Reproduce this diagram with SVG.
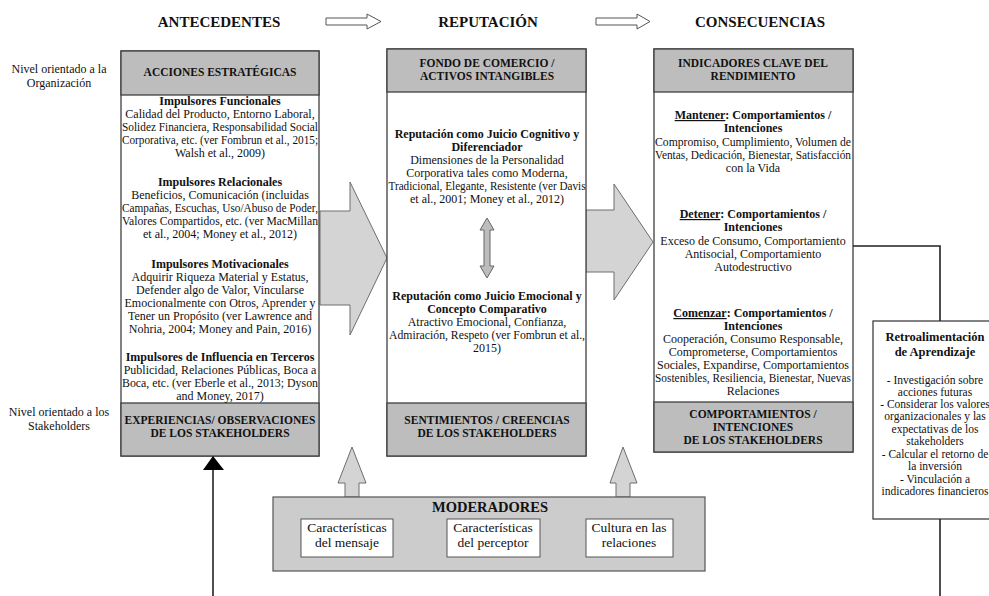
<svg xmlns="http://www.w3.org/2000/svg" width="989" height="596" viewBox="0 0 989 596">
<style>
text{font-family:"Liberation Serif","Times New Roman",serif;fill:#111;text-anchor:middle}
.t{font-size:12px}
.b{font-size:12px;font-weight:bold}
.hd{font-size:11.5px;font-weight:bold}
.h{font-size:15px;font-weight:bold}
.m{font-size:13.5px}
.lab{font-size:12px}
.f{font-size:11.5px}
.hdr{fill:#bdbdbd;stroke:#404040;stroke-width:1.3}
.body{fill:#fff;stroke:#404040;stroke-width:1.3}
.big{fill:#d4d4d4;stroke:#6e6e6e;stroke-width:1}
.sm{fill:#fff;stroke:#555;stroke-width:1}
.ln{fill:none;stroke:#222;stroke-width:1.6}
</style>
<rect width="989" height="596" fill="#fff"/>

<g id="titles">
<text class="h" x="219" y="27">ANTECEDENTES</text>
<text class="h" x="488" y="27">REPUTACIÓN</text>
<text class="h" x="760" y="27">CONSECUENCIAS</text>
<path class="sm" d="M326,18 H367 V14 L381,21.5 L367,29 V25 H326 Z"/>
<path class="sm" d="M596,18 H637 V14 L650,21.5 L637,29 V25 H596 Z"/>
</g>

<g id="levels">
<text class="lab" x="59" y="73">Nivel orientado a la</text>
<text class="lab" x="59" y="87">Organización</text>
<text class="lab" x="59" y="416">Nivel orientado a los</text>
<text class="lab" x="59" y="430">Stakeholders</text>
</g>

<g id="arrows-big">
<path class="big" d="M320,211 H350 V182 L387,258 L350,335 V305 H320 Z"/>
<path class="big" d="M586,210 H614 V184 L653,242 L614,300 V272 H586 Z"/>
</g>

<g id="antecedentes">
<rect class="body" x="121" y="51" width="198" height="405"/>
<rect class="hdr" x="121" y="51" width="198" height="44"/>
<rect class="hdr" x="121" y="403" width="198" height="53"/>
<text class="hd" x="220" y="76">ACCIONES ESTRATÉGICAS</text>
<text class="b" x="220" y="105">Impulsores Funcionales</text>
<text class="t" x="220" y="118">Calidad del Producto, Entorno Laboral,</text>
<text class="t" x="220" y="131" textLength="196" lengthAdjust="spacingAndGlyphs">Solidez Financiera, Responsabilidad Social</text>
<text class="t" x="220" y="144" textLength="196" lengthAdjust="spacingAndGlyphs">Corporativa, etc. (ver Fombrun et al., 2015;</text>
<text class="t" x="220" y="157">Walsh et al., 2009)</text>
<text class="b" x="220" y="186">Impulsores Relacionales</text>
<text class="t" x="220" y="199">Beneficios, Comunicación (incluidas</text>
<text class="t" x="220" y="212" textLength="196" lengthAdjust="spacingAndGlyphs">Campañas, Escuchas, Uso/Abuso de Poder,</text>
<text class="t" x="220" y="225" textLength="196" lengthAdjust="spacingAndGlyphs">Valores Compartidos, etc. (ver MacMillan</text>
<text class="t" x="220" y="238">et al., 2004; Money et al., 2012)</text>
<text class="b" x="220" y="268">Impulsores Motivacionales</text>
<text class="t" x="220" y="281">Adquirir Riqueza Material y Estatus,</text>
<text class="t" x="220" y="294">Defender algo de Valor, Vincularse</text>
<text class="t" x="220" y="307">Emocionalmente con Otros, Aprender y</text>
<text class="t" x="220" y="320">Tener un Propósito (ver Lawrence and</text>
<text class="t" x="220" y="333">Nohria, 2004; Money and Pain, 2016)</text>
<text class="b" x="220" y="361">Impulsores de Influencia en Terceros</text>
<text class="t" x="220" y="374">Publicidad, Relaciones Públicas, Boca a</text>
<text class="t" x="220" y="387" textLength="196" lengthAdjust="spacingAndGlyphs">Boca, etc. (ver Eberle et al., 2013; Dyson</text>
<text class="t" x="220" y="400">and Money, 2017)</text>
<text class="hd" x="220" y="424">EXPERIENCIAS/ OBSERVACIONES</text>
<text class="hd" x="220" y="437">DE LOS STAKEHOLDERS</text>
</g>

<g id="reputacion">
<rect class="body" x="387" y="49" width="199" height="407"/>
<rect class="hdr" x="387" y="49" width="199" height="43"/>
<rect class="hdr" x="387" y="403" width="199" height="53"/>
<text class="hd" x="487" y="67">FONDO DE COMERCIO /</text>
<text class="hd" x="487" y="80">ACTIVOS INTANGIBLES</text>
<text class="b" x="487" y="138">Reputación como Juicio Cognitivo y</text>
<text class="b" x="487" y="151">Diferenciador</text>
<text class="t" x="487" y="164">Dimensiones de la Personalidad</text>
<text class="t" x="487" y="177">Corporativa tales como Moderna,</text>
<text class="t" x="487" y="190" textLength="197" lengthAdjust="spacingAndGlyphs">Tradicional, Elegante, Resistente (ver Davis</text>
<text class="t" x="487" y="203">et al., 2001; Money et al., 2012)</text>
<text class="b" x="487" y="300">Reputación como Juicio Emocional y</text>
<text class="b" x="487" y="313">Concepto Comparativo</text>
<text class="t" x="487" y="326">Atractivo Emocional, Confianza,</text>
<text class="t" x="487" y="339" textLength="196" lengthAdjust="spacingAndGlyphs">Admiración, Respeto (ver Fombrun et al.,</text>
<text class="t" x="487" y="352">2015)</text>
<text class="hd" x="487" y="424">SENTIMIENTOS / CREENCIAS</text>
<text class="hd" x="487" y="437">DE LOS STAKEHOLDERS</text>
</g>

<g id="consecuencias">
<rect class="body" x="654" y="49" width="199" height="403"/>
<rect class="hdr" x="654" y="49" width="199" height="43"/>
<rect class="hdr" x="654" y="402" width="199" height="50"/>
<text class="hd" x="753" y="67">INDICADORES CLAVE DEL</text>
<text class="hd" x="753" y="80">RENDIMIENTO</text>
<text class="b" x="753" y="119"><tspan text-decoration="underline">Mantener</tspan>: Comportamientos /</text>
<text class="b" x="753" y="132">Intenciones</text>
<text class="t" x="753" y="146" textLength="196" lengthAdjust="spacingAndGlyphs">Compromiso, Cumplimiento, Volumen de</text>
<text class="t" x="753" y="159" textLength="196" lengthAdjust="spacingAndGlyphs">Ventas, Dedicación, Bienestar, Satisfacción</text>
<text class="t" x="753" y="172">con la Vida</text>
<text class="b" x="753" y="218"><tspan text-decoration="underline">Detener</tspan>: Comportamientos /</text>
<text class="b" x="753" y="231">Intenciones</text>
<text class="t" x="753" y="245">Exceso de Consumo, Comportamiento</text>
<text class="t" x="753" y="258">Antisocial, Comportamiento</text>
<text class="t" x="753" y="271">Autodestructivo</text>
<text class="b" x="753" y="317"><tspan text-decoration="underline">Comenzar</tspan>: Comportamientos /</text>
<text class="b" x="753" y="330">Intenciones</text>
<text class="t" x="753" y="343">Cooperación, Consumo Responsable,</text>
<text class="t" x="753" y="356">Comprometerse, Comportamientos</text>
<text class="t" x="753" y="369">Sociales, Expandirse, Comportamientos</text>
<text class="t" x="753" y="382" textLength="196" lengthAdjust="spacingAndGlyphs">Sostenibles, Resiliencia, Bienestar, Nuevas</text>
<text class="t" x="753" y="395">Relaciones</text>
<text class="hd" x="753" y="418">COMPORTAMIENTOS /</text>
<text class="hd" x="753" y="431">INTENCIONES</text>
<text class="hd" x="753" y="444">DE LOS STAKEHOLDERS</text>
</g>

<g id="retroalimentacion">
<rect class="body" x="873" y="321" width="126" height="198"/>
<text class="b" x="935" y="341" style="font-size:12.5px">Retroalimentación</text>
<text class="b" x="935" y="356" style="font-size:12.5px">de Aprendizaje</text>
<text class="f" x="935" y="384">- Investigación sobre</text>
<text class="f" x="935" y="396">acciones futuras</text>
<text class="f" x="935" y="408">- Considerar los valores</text>
<text class="f" x="935" y="420">organizacionales y las</text>
<text class="f" x="935" y="433">expectativas de los</text>
<text class="f" x="935" y="445">stakeholders</text>
<text class="f" x="935" y="458">- Calcular el retorno de</text>
<text class="f" x="935" y="470">la inversión</text>
<text class="f" x="935" y="483">- Vinculación a</text>
<text class="f" x="935" y="495">indicadores financieros</text>
</g>

<g id="moderadores">
<path class="big" d="M345,497 V483 H338 L352,447 L366,483 H359 V497 Z"/>
<path class="big" d="M616,497 V483 H610 L623,447 L637,483 H630 V497 Z"/>
<rect x="273" y="497" width="432" height="74" fill="#cccccc" stroke="#555" stroke-width="1.2"/>
<text class="h" x="490" y="512" style="font-size:14.5px">MODERADORES</text>
<rect class="sm" x="301" y="519" width="92" height="38"/>
<rect class="sm" x="447" y="519" width="93" height="38"/>
<rect class="sm" x="586" y="519" width="87" height="38"/>
<text class="m" x="347" y="532">Características</text>
<text class="m" x="347" y="547">del mensaje</text>
<text class="m" x="493" y="532">Características</text>
<text class="m" x="493" y="547">del perceptor</text>
<text class="m" x="629" y="532">Cultura en las</text>
<text class="m" x="629" y="547">relaciones</text>
</g>

<g id="connectors">
<path d="M484,230 H480 L487,218 L494,230 H490 V266 H494 L487,278 L480,266 H484 Z" fill="#bdbdbd" stroke="#666" stroke-width="1"/>
<path class="ln" d="M853,246 H940 V321"/>
<path class="ln" d="M940,519 V596"/>
<path class="ln" d="M213,596 V468"/>
<path d="M203,470 L213,456 L224,470 Z" fill="#000"/>
</g>
</svg>
